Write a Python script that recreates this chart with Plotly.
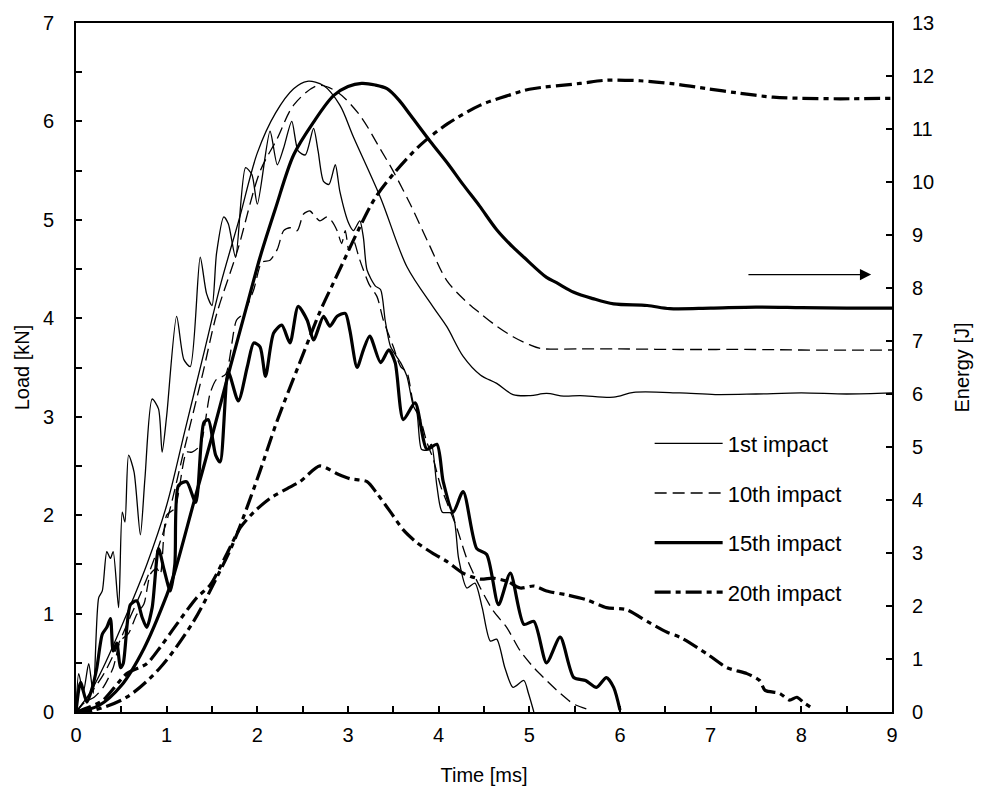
import plotly.graph_objects as go

# ---------------- data ----------------
# Load curves (kN) vs time (ms)
t_L1 = [0, 0.03, 0.08, 0.14, 0.19, 0.25, 0.29, 0.34, 0.38, 0.41, 0.47, 0.51, 0.54, 0.58, 0.64, 0.71, 0.76, 0.84,
        0.91, 0.95, 1.0, 1.11, 1.19, 1.26, 1.37, 1.44, 1.50, 1.55, 1.63, 1.68, 1.76, 1.87, 1.94, 2.0, 2.14, 2.22,
        2.29, 2.38, 2.45, 2.53, 2.62, 2.67, 2.73, 2.79, 2.86, 2.91, 3.01, 3.06, 3.13, 3.17, 3.21, 3.30, 3.36, 3.41,
        3.47, 3.58, 3.65, 3.72, 3.76, 3.81, 3.87, 3.92, 3.98, 4.04, 4.15, 4.22, 4.31, 4.40, 4.48, 4.57, 4.64, 4.73,
        4.82, 4.94, 4.99, 5.05]
L1 = [0, 0.39, 0.2, 0.49, 0.19, 1.16, 1.23, 1.63, 1.56, 1.63, 1.06, 2.03, 1.93, 2.61, 2.44, 1.80, 2.37, 3.18,
      3.08, 2.64, 3.01, 4.02, 3.58, 3.51, 4.62, 4.25, 4.13, 4.66, 5.03, 4.96, 4.62, 5.53, 5.46, 5.16, 5.90, 5.56,
      5.73, 6.0, 5.70, 5.66, 5.93, 5.70, 5.39, 5.36, 5.56, 5.29, 4.96, 4.89, 4.99, 4.82, 4.49, 4.33, 4.29, 3.98,
      3.71, 3.55, 3.41, 3.11, 3.04, 2.67, 2.66, 2.72, 2.30, 2.03, 2.02, 1.56, 1.26, 1.31, 1.06, 0.72, 0.74, 0.45,
      0.25, 0.32, 0.19, 0]

t_L10 = [0, 0.1, 0.2, 0.3, 0.41, 0.49, 0.58, 0.67, 0.75, 0.82, 0.89, 0.93, 1.0, 1.09, 1.22, 1.28, 1.37, 1.48, 1.55,
         1.65, 1.77, 1.85, 1.96, 2.05, 2.14, 2.22, 2.29, 2.36, 2.44, 2.51, 2.58, 2.64, 2.69, 2.77, 2.82, 2.88, 2.93,
         2.97, 3.01, 3.06, 3.12, 3.17, 3.23, 3.32, 3.39, 3.50, 3.58, 3.65, 3.72, 3.80, 3.87, 3.94, 4.02, 4.09, 4.20,
         4.31, 4.46, 4.60, 4.75, 4.90, 5.05, 5.19, 5.34, 5.49, 5.67]
L10 = [0, 0.1, 0.15, 0.25, 0.45, 0.72, 0.8, 0.99, 1.1, 1.40, 1.46, 1.4, 2.0, 2.07, 2.64, 2.64, 2.71, 3.24, 3.38,
       3.43, 3.98, 4.05, 4.29, 4.57, 4.59, 4.7, 4.89, 4.92, 4.89, 5.06, 5.09, 5.03, 4.99, 5.03, 4.99, 4.89, 4.76,
       4.89, 4.69, 4.79, 4.62, 4.49, 4.35, 4.22, 3.98, 3.71, 3.51, 3.45, 3.14, 2.97, 2.74, 2.57, 2.30, 2.13, 1.87,
       1.56, 1.26, 1.03, 0.86, 0.62, 0.45, 0.32, 0.19, 0.08, 0.02]

t_L15 = [0, 0.05, 0.12, 0.18, 0.23, 0.29, 0.34, 0.38, 0.41, 0.45, 0.49, 0.52, 0.60, 0.67, 0.73, 0.78, 0.84, 0.91,
         0.97, 1.04, 1.09, 1.13, 1.22, 1.32, 1.41, 1.46, 1.54, 1.59, 1.68, 1.79, 1.89, 1.96, 2.03, 2.09, 2.18, 2.27,
         2.36, 2.45, 2.55, 2.62, 2.73, 2.80, 2.88, 2.97, 3.02, 3.10, 3.17, 3.24, 3.36, 3.45, 3.52, 3.61, 3.74, 3.87,
         3.98, 4.05, 4.16, 4.27, 4.42, 4.53, 4.66, 4.79, 4.94, 5.05, 5.19, 5.34, 5.49, 5.62, 5.74, 5.85, 5.93, 6.0]
L15 = [0, 0.3, 0.1, 0.25, 0.45, 0.79, 0.86, 0.95, 0.62, 0.7, 0.45, 0.49, 1.09, 1.13, 0.96, 0.86, 1.06, 1.66,
       1.45, 1.23, 1.5, 2.3, 2.34, 2.13, 2.94, 2.97, 2.61, 2.54, 3.45, 3.16, 3.51, 3.75, 3.71, 3.41, 3.85, 3.93,
       3.75, 4.12, 3.98, 3.78, 4.02, 3.92, 4.02, 4.05, 3.88, 3.50, 3.68, 3.82, 3.55, 3.68, 3.55, 2.97, 3.14, 2.67,
       2.72, 2.34, 2.03, 2.24, 1.66, 1.60, 1.09, 1.41, 0.89, 0.92, 0.50, 0.76, 0.35, 0.32, 0.25, 0.35, 0.25, 0.02]

t_L20 = [0, 0.15, 0.30, 0.56, 0.78, 0.93, 1.11, 1.33, 1.48, 1.66, 1.81, 1.96, 2.14, 2.33, 2.47, 2.69, 2.88, 3.02,
         3.21, 3.32, 3.47, 3.61, 3.76, 3.94, 4.09, 4.27, 4.46, 4.60, 4.75, 4.90, 5.05, 5.19, 5.41, 5.63, 5.85, 6.07,
         6.30, 6.52, 6.66, 6.96, 7.18, 7.40, 7.54, 7.60, 7.76, 7.87, 7.95, 8.02, 8.10]
L20 = [0, 0.05, 0.12, 0.39, 0.49, 0.66, 0.89, 1.16, 1.29, 1.60, 1.87, 2.03, 2.17, 2.27, 2.34, 2.50, 2.42, 2.37,
       2.34, 2.22, 2.03, 1.85, 1.72, 1.61, 1.53, 1.41, 1.35, 1.36, 1.33, 1.26, 1.28, 1.23, 1.19, 1.14, 1.06, 1.04,
       0.92, 0.81, 0.76, 0.59, 0.45, 0.39, 0.32, 0.22, 0.19, 0.12, 0.15, 0.10, 0.05]

# Energy curves (J) vs time (ms)
t_E1 = [0, 0.15, 0.3, 0.56, 0.78, 1.0, 1.2, 1.4, 1.6, 1.8, 2.0, 2.2, 2.4, 2.55, 2.73, 2.91, 3.06, 3.36, 3.65, 3.94,
        4.09, 4.27, 4.46, 4.64, 4.82, 5.01, 5.19, 5.38, 5.56, 5.93, 6.15, 6.66, 7.05, 7.5, 8.0, 8.5, 9.0]
E1 = [0, 0.35, 0.84, 1.85, 2.78, 3.9, 5.3, 6.7, 8.1, 9.3, 10.55, 11.3, 11.76, 11.9, 11.82, 11.45, 10.85, 9.7, 8.4,
      7.64, 7.27, 6.71, 6.36, 6.2, 5.99, 5.97, 6.01, 5.96, 5.97, 5.94, 6.03, 6.02, 5.99, 6.0, 6.02, 6.0, 6.02]

t_E10 = [0, 0.3, 0.6, 0.8, 1.0, 1.2, 1.4, 1.55, 1.78, 2.03, 2.22, 2.4, 2.67, 2.88, 3.13, 3.35, 3.5, 3.69, 3.9, 4.09,
         4.3, 4.46, 4.64, 4.82, 5.0, 5.12, 5.56, 6.0, 6.66, 7.5, 8.0, 9.0]
E10 = [0, 0.7, 1.8, 2.6, 3.6, 5.0, 6.4, 7.5, 8.7, 10.2, 10.82, 11.45, 11.82, 11.7, 11.26, 10.64, 10.2, 9.57, 8.8,
       8.14, 7.75, 7.52, 7.28, 7.08, 6.93, 6.86, 6.85, 6.85, 6.84, 6.84, 6.83, 6.83]

t_E15 = [0, 0.25, 0.5, 0.75, 1.0, 1.08, 1.3, 1.5, 1.7, 1.89, 2.03, 2.2, 2.4, 2.62, 2.84, 3.0, 3.15, 3.3, 3.43, 3.56,
         3.69, 3.91, 4.1, 4.27, 4.45, 4.64, 4.82, 4.94, 5.19, 5.3, 5.49, 5.7, 5.93, 6.3, 6.55, 7.0, 7.5, 8.0, 8.5, 9.0]
E15 = [0, 0.12, 0.5, 1.2, 2.2, 2.59, 3.96, 5.2, 6.5, 7.7, 8.58, 9.5, 10.51, 11.13, 11.63, 11.8, 11.86, 11.83, 11.76,
       11.55, 11.26, 10.76, 10.35, 9.95, 9.55, 9.1, 8.77, 8.58, 8.2, 8.1, 7.92, 7.8, 7.7, 7.67, 7.61, 7.62, 7.64,
       7.63, 7.62, 7.62]

t_E20 = [0, 0.19, 0.56, 0.93, 1.30, 1.55, 1.74, 2.0, 2.22, 2.47, 2.69, 2.84, 2.95, 3.13, 3.3, 3.5, 3.8, 4.1, 4.46,
         4.8, 5.0, 5.56, 5.85, 6.22, 6.6, 6.96, 7.3, 7.69, 8.0, 8.43, 9.0]
E20 = [0, 0.03, 0.28, 0.84, 1.72, 2.53, 3.21, 4.4, 5.5, 6.6, 7.55, 8.1, 8.5, 9.15, 9.7, 10.15, 10.7, 11.1, 11.45,
       11.65, 11.75, 11.86, 11.92, 11.91, 11.85, 11.76, 11.68, 11.6, 11.58, 11.57, 11.58]

names = ["1st impact", "10th impact", "15th impact", "20th impact"]

# ---------------- styles ----------------
THIN = 1.3
THICK = 3.2
styles = [
    dict(color="black", width=THIN, dash="solid"),
    dict(color="black", width=THIN, dash="12px,6px"),
    dict(color="black", width=THICK, dash="solid"),
    dict(color="black", width=THICK, dash="16px,5px,5px,5px"),
]

FONT = "Liberation Sans, Arial, sans-serif"

fig = go.Figure()

loads = [(t_L1, L1), (t_L10, L10), (t_L15, L15), (t_L20, L20)]
energies = [(t_E1, E1), (t_E10, E10), (t_E15, E15), (t_E20, E20)]

for i, ((tl, l), (te, e)) in enumerate(zip(loads, energies)):
    fig.add_trace(go.Scatter(
        x=tl, y=l, mode="lines", name=names[i], legendgroup=f"g{i}",
        line=dict(**styles[i], shape="spline", smoothing=0.7),
        showlegend=True, yaxis="y",
    ))
    fig.add_trace(go.Scatter(
        x=te, y=e, mode="lines", name=names[i], legendgroup=f"g{i}",
        line=dict(**styles[i], shape="spline", smoothing=0.9),
        showlegend=False, yaxis="y2",
    ))

axis_common = dict(
    showline=True, linecolor="black", linewidth=1.8,
    ticks="inside", ticklen=6, tickwidth=1.5, tickcolor="black",
    showgrid=False, zeroline=False,
    tickfont=dict(family=FONT, size=20, color="black"),
)

fig.update_layout(
    width=983, height=796,
    margin=dict(l=76, r=91, t=18, b=84),
    paper_bgcolor="white", plot_bgcolor="white",
    font=dict(family=FONT, size=20, color="black"),
    xaxis=dict(
        range=[0, 9], dtick=1, tick0=0, mirror=True,
        minor=dict(dtick=0.5, ticks="inside", ticklen=6, tickwidth=1.5, tickcolor="black", showgrid=False),
        title=dict(text="Time [ms]", font=dict(family=FONT, size=20), standoff=23),
        ticklabelstandoff=4,
        **axis_common,
    ),
    yaxis=dict(
        range=[0, 7], dtick=1, tick0=0,
        minor=dict(dtick=0.5, ticks="inside", ticklen=6, tickwidth=1.5, tickcolor="black", showgrid=False),
        title=dict(text="Load [kN]", font=dict(family=FONT, size=20), standoff=8),
        ticklabelstandoff=16,
        **axis_common,
    ),
    yaxis2=dict(
        range=[0, 13], dtick=1, tick0=0, overlaying="y", side="right",
        title=dict(text="Energy [J]", font=dict(family=FONT, size=20), standoff=22),
        ticklabelstandoff=14,
        **axis_common,
    ),
    legend=dict(
        x=0.703, y=0.420, xanchor="left", yanchor="top",
        bgcolor="rgba(0,0,0,0)", borderwidth=0,
        font=dict(family=FONT, size=22, color="black"),
        tracegroupgap=18, itemwidth=68,
    ),
    showlegend=True,
)

# arrow pointing to the right-hand (energy) axis
fig.add_annotation(
    x=8.77, y=4.444, ax=7.40, ay=4.444, xref="x", yref="y", axref="x", ayref="y",
    showarrow=True, arrowhead=2, arrowsize=1.6, arrowwidth=1.4, arrowcolor="black",
    standoff=0, text="",
)

fig.write_html("out.html")
